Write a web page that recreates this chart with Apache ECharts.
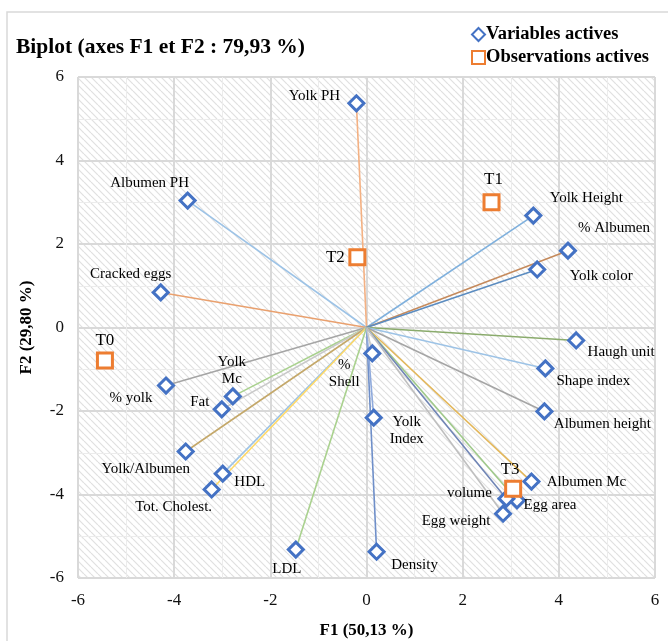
<!DOCTYPE html>
<html>
<head>
<meta charset="utf-8">
<script src="https://cdn.jsdelivr.net/npm/echarts@6/dist/echarts.min.js"></script>
<style>html,body{margin:0;padding:0;background:#fff}#c{width:668px;height:641px}</style>
</head>
<body>
<div id="c"></div>
<script>
// ---- data ----
const varNames = ['Yolk PH','Albumen PH','Cracked eggs','% yolk','Yolk\nMc','Fat','Yolk/Albumen','HDL','Tot. Cholest.','LDL','Density','Yolk\nIndex','%\nShell','Yolk Height','% Albumen','Yolk color','Haugh unit','Shape index','Albumen height','Albumen Mc','Egg area','volume','Egg weight'];
const varF1 = [-0.21,-3.72,-4.28,-4.17,-2.78,-3.01,-3.76,-2.99,-3.22,-1.47,0.21,0.15,0.12,3.47,4.19,3.55,4.36,3.72,3.70,3.43,3.13,2.91,2.84];
const varF2 = [5.37,3.04,0.84,-1.39,-1.65,-1.96,-2.97,-3.50,-3.88,-5.32,-5.37,-2.16,-0.62,2.68,1.84,1.39,-0.31,-0.98,-2.01,-3.69,-4.14,-4.10,-4.46];
const obsNames = ['T0','T1','T2','T3'];
const obsF1 = [-5.44,2.60,-0.19,3.05];
const obsF2 = [-0.79,3.00,1.68,-3.86];
const xTicks = [-6,-4,-2,0,2,4,6];
const yTicks = [-6,-4,-2,0,2,4,6];

// ---- styles ----
const lineColors = ['#f4b183','#9dc3e6','#e9a06e','#a5a5a5','#a9d18e','#c9c9c9','#c4a86a','#9dc3e6','#ffd966','#a9d18e','#6f8fc9','#8faadc','#c9c9c9','#7fb0dd','#c58a5c','#5b8cc0','#8aab6c','#9dc3e6','#a5a5a5','#e3b75a','#9fc98a','#7085b5','#bfbfbf'];
const varLabelOffset = [[-42,-7],[-38,-18],[-30,-18],[-35,13],[-1,-26],[-22,-7],[-40,18],[27,8],[-38,18],[-9,19],[38,13],[33,13],[-28,20],[53,-18],[46,-23],[64,7],[45,12],[48,13],[58,13],[55,1],[33,5],[-37,-6],[-47,7]];
const obsLabelOffset = [[0,-20],[2,-23],[-22,0],[-3,-19]];
const serif = '"Liberation Serif","Times New Roman",serif';

// hatch pattern
const tile = document.createElement('canvas');
const S = 7;
tile.width = S; tile.height = S;
const g = tile.getContext('2d');
g.fillStyle = '#ffffff'; g.fillRect(0,0,S,S);
g.strokeStyle = '#e0e0e0'; g.lineWidth = 1.2;
for (const o of [-S,0,S]) { g.beginPath(); g.moveTo(o,0); g.lineTo(o+S,S); g.stroke(); }

const linesData = varF1.map((x,i)=>({coords:[[0,0],[x,varF2[i]]], lineStyle:{color:lineColors[i]}}));
const varData = varF1.map((x,i)=>({value:[x,varF2[i]], name:varNames[i], label:{offset:varLabelOffset[i]}}));
const obsData = obsF1.map((x,i)=>({value:[x,obsF2[i]], name:obsNames[i], label:{offset:obsLabelOffset[i]}}));

const chart = echarts.init(document.getElementById('c'), null, {renderer:'canvas'});
chart.setOption({
  animation:false,
  backgroundColor:'#ffffff',
  graphic:[{type:'rect', shape:{x:7,y:12,width:700,height:700}, style:{fill:'none', stroke:'#d9d9d9', lineWidth:1.5}, z:-10}],
  title:{text:'Biplot (axes F1 et F2 : 79,93 %)', left:11, top:31,
    textStyle:{fontFamily:serif, fontWeight:'bold', fontSize:21.5, color:'#000'}},
  legend:{orient:'vertical', left:466, top:20, itemGap:4, itemWidth:13, itemHeight:13,
    data:['Variables actives','Observations actives'],
    textStyle:{fontFamily:serif, fontWeight:'bold', fontSize:18.5, color:'#000', padding:[0,0,0,-4]}},
  grid:{left:78, right:13, top:77, bottom:63, show:true, borderWidth:0, outerBoundsMode:'none', containLabel:false,
    backgroundColor:{image:tile, repeat:'repeat'}},
  xAxis:{type:'value', min:-6, max:6, interval:2,
    name:'F1 (50,13 %)', nameLocation:'middle', nameGap:44,
    nameTextStyle:{fontFamily:serif, fontWeight:'bold', fontSize:17, color:'#000'},
    axisLine:{show:false}, axisTick:{show:false},
    axisLabel:{fontFamily:serif, fontSize:17, color:'#111', margin:14},
    splitLine:{lineStyle:{color:'#d9d9d9', width:2}},
    minorTick:{show:false, splitNumber:2},
    minorSplitLine:{show:true, lineStyle:{color:'#ececec', width:1}}},
  yAxis:{type:'value', min:-6, max:6, interval:2,
    name:'F2 (29,80 %)', nameLocation:'middle', nameGap:43, nameRotate:90,
    nameTextStyle:{fontFamily:serif, fontWeight:'bold', fontSize:17, color:'#000'},
    axisLine:{show:false}, axisTick:{show:false},
    axisLabel:{fontFamily:serif, fontSize:17, color:'#111', margin:14},
    splitLine:{lineStyle:{color:'#d9d9d9', width:2}},
    minorTick:{show:false, splitNumber:2},
    minorSplitLine:{show:true, lineStyle:{color:'#ececec', width:1}}},
  series:[
    {type:'lines', coordinateSystem:'cartesian2d', data:linesData, lineStyle:{width:1.6, opacity:1}, z:2, silent:true},
    {name:'Variables actives', type:'scatter', symbol:'diamond', symbolSize:[15,15], data:varData, z:3,
      itemStyle:{color:'#ffffff', borderColor:'#4472c4', borderWidth:3, opacity:1},
      label:{show:true, position:'inside', formatter:'{b}', fontFamily:serif, fontSize:15, color:'#000', lineHeight:17}},
    {name:'Observations actives', type:'scatter', symbol:'rect', symbolSize:[15,15], data:obsData, z:4,
      itemStyle:{color:'#ffffff', borderColor:'#ed7d31', borderWidth:3, opacity:1},
      label:{show:true, position:'inside', formatter:'{b}', fontFamily:serif, fontSize:17, color:'#000'}}
  ]
});
</script>
</body>
</html>
